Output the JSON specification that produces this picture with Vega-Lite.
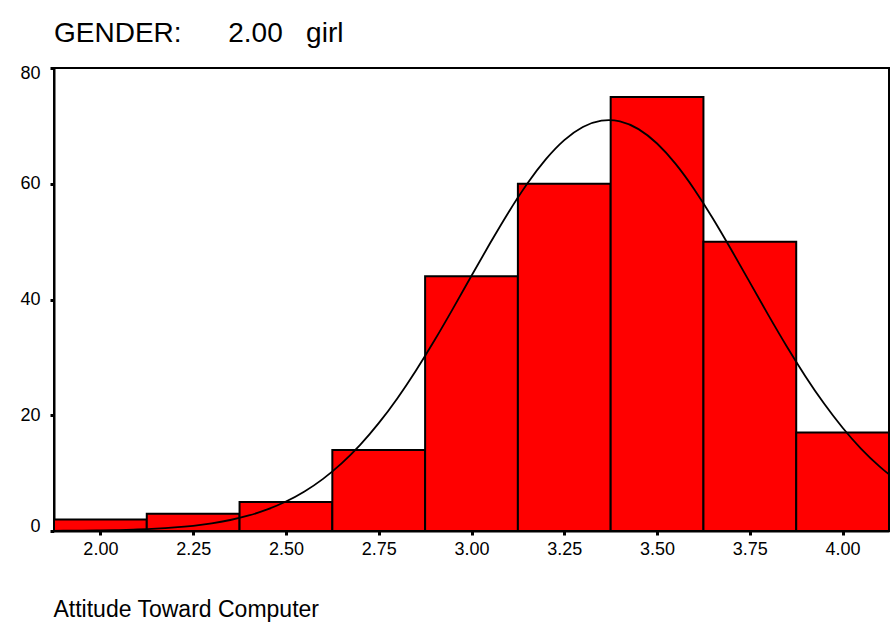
{
  "$schema": "https://vega.github.io/schema/vega-lite/v6.json",
  "width": 835,
  "height": 463,
  "autosize": {"type": "none"},
  "padding": {"left": 54, "top": 68, "right": 1, "bottom": 103},
  "background": "white",
  "config": {
    "font": "Liberation Sans",
    "view": {"stroke": "black", "strokeWidth": 2}
  },
  "title": {
    "text": "GENDER:\u00a0\u00a0\u00a0\u00a0\u00a0\u00a02.00\u00a0\u00a0\u00a0girl",
    "anchor": "start",
    "frame": "group",
    "fontSize": 28,
    "fontWeight": "normal",
    "color": "black",
    "font": "Liberation Sans",
    "baseline": "alphabetic",
    "offset": 18,
    "dy": 24
  },
  "datasets": {
    "bars": [
      {"start": 1.875, "end": 2.125, "count": 2},
      {"start": 2.125, "end": 2.375, "count": 3},
      {"start": 2.375, "end": 2.625, "count": 5},
      {"start": 2.625, "end": 2.875, "count": 14},
      {"start": 2.875, "end": 3.125, "count": 44},
      {"start": 3.125, "end": 3.375, "count": 60},
      {"start": 3.375, "end": 3.625, "count": 75},
      {"start": 3.625, "end": 3.875, "count": 50},
      {"start": 3.875, "end": 4.125, "count": 17}
    ],
    "curve": [
      {"x": 1.875, "y": 0.03}, {"x": 1.9, "y": 0.04}, {"x": 1.95, "y": 0.06},
      {"x": 2.0, "y": 0.1}, {"x": 2.05, "y": 0.16}, {"x": 2.1, "y": 0.26},
      {"x": 2.15, "y": 0.4}, {"x": 2.2, "y": 0.61}, {"x": 2.25, "y": 0.9},
      {"x": 2.3, "y": 1.32}, {"x": 2.35, "y": 1.9}, {"x": 2.4, "y": 2.68},
      {"x": 2.45, "y": 3.73}, {"x": 2.5, "y": 5.09}, {"x": 2.55, "y": 6.83},
      {"x": 2.6, "y": 9.01}, {"x": 2.65, "y": 11.68}, {"x": 2.7, "y": 14.88},
      {"x": 2.75, "y": 18.63}, {"x": 2.8, "y": 22.91}, {"x": 2.85, "y": 27.7},
      {"x": 2.9, "y": 32.91}, {"x": 2.95, "y": 38.43}, {"x": 3.0, "y": 44.1},
      {"x": 3.05, "y": 49.71}, {"x": 3.1, "y": 55.09}, {"x": 3.15, "y": 59.99},
      {"x": 3.2, "y": 64.2}, {"x": 3.25, "y": 67.53}, {"x": 3.3, "y": 69.8},
      {"x": 3.35, "y": 70.9}, {"x": 3.4, "y": 70.78}, {"x": 3.45, "y": 69.44},
      {"x": 3.5, "y": 66.95}, {"x": 3.55, "y": 63.43}, {"x": 3.6, "y": 59.06},
      {"x": 3.65, "y": 54.05}, {"x": 3.7, "y": 48.6}, {"x": 3.75, "y": 42.95},
      {"x": 3.8, "y": 37.3}, {"x": 3.85, "y": 31.84}, {"x": 3.9, "y": 26.71},
      {"x": 3.95, "y": 22.02}, {"x": 4.0, "y": 17.84}, {"x": 4.05, "y": 14.2},
      {"x": 4.1, "y": 11.11}, {"x": 4.125, "y": 9.8}
    ]
  },
  "layer": [
    {
      "data": {"name": "bars"},
      "mark": {"type": "bar", "fill": "#ff0000", "stroke": "black", "strokeWidth": 2},
      "encoding": {
        "x": {
          "field": "start", "type": "quantitative",
          "scale": {"domain": [1.875, 4.125], "nice": false, "zero": false},
          "axis": {
            "values": [2, 2.25, 2.5, 2.75, 3, 3.25, 3.5, 3.75, 4],
            "format": ".2f",
            "grid": false,
            "domainColor": "black", "domainWidth": 2,
            "tickColor": "black", "tickSize": 4, "tickWidth": 3,
            "labelFontSize": 18, "labelColor": "black", "labelPadding": 5,
            "labelFont": "Liberation Sans",
            "title": "Attitude Toward Computer",
            "titleFont": "Liberation Sans", "titleFontSize": 23, "titleFontWeight": "normal",
            "titleColor": "black",
            "titleAnchor": "start", "titleAlign": "left", "titleBaseline": "alphabetic",
            "titleX": -1, "titleY": 85
          }
        },
        "x2": {"field": "end"},
        "y": {
          "field": "count", "type": "quantitative",
          "scale": {"domain": [0, 80], "nice": false},
          "axis": {
            "values": [0, 20, 40, 60, 80],
            "grid": false,
            "title": null,
            "domainColor": "black", "domainWidth": 2,
            "tickColor": "black", "tickSize": 4, "tickWidth": 3,
            "labelFontSize": 18, "labelColor": "black", "labelPadding": 10,
            "labelFont": "Liberation Sans",
            "labelFlush": true, "labelFlushOffset": 4
          }
        },
        "y2": {"datum": 0}
      }
    },
    {
      "data": {"name": "curve"},
      "mark": {"type": "line", "color": "black", "strokeWidth": 1.8, "interpolate": "natural", "clip": true},
      "encoding": {
        "x": {"field": "x", "type": "quantitative"},
        "y": {"field": "y", "type": "quantitative"}
      }
    }
  ]
}
